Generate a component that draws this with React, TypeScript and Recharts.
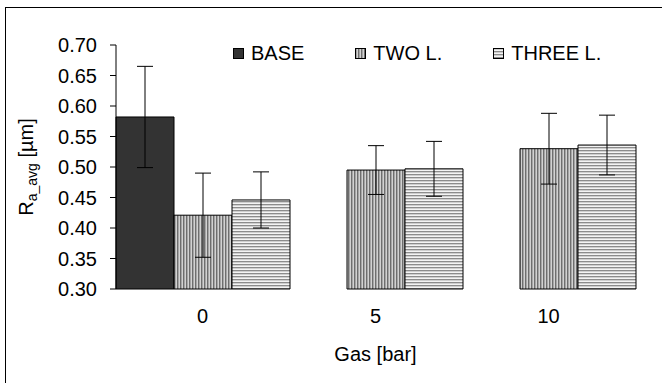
import { BarChart, Bar, XAxis, YAxis, ErrorBar, Legend } from "recharts";

const gasLevels = ["0", "5", "10"];
const baseValues = [0.582, null, null];
const baseErrors = [0.083, null, null];
const twoLValues = [0.421, 0.495, 0.53];
const twoLErrors = [0.069, 0.04, 0.058];
const threeLValues = [0.446, 0.497, 0.536];
const threeLErrors = [0.046, 0.045, 0.049];
const yTicks = [0.3, 0.35, 0.4, 0.45, 0.5, 0.55, 0.6, 0.65, 0.7];
const slotTicks = [0, 1, 2, 3];

const data = gasLevels.map((gas, i) => ({
  gas,
  base: baseValues[i],
  baseErr: baseErrors[i],
  two: twoLValues[i],
  twoErr: twoLErrors[i],
  three: threeLValues[i],
  threeErr: threeLErrors[i],
}));

const series = [
  { key: "base", err: "baseErr", name: "BASE", fill: "#333333" },
  { key: "two", err: "twoErr", name: "TWO L.", fill: "url(#vStripes)" },
  { key: "three", err: "threeErr", name: "THREE L.", fill: "url(#hStripes)" },
];

const font = "'Liberation Sans', Arial, sans-serif";

function LegendBox() {
  return (
    <div style={{ display: "flex", alignItems: "center", fontFamily: font, fontSize: 20, color: "#000" }}>
      {series.map((s, i) => (
        <div key={s.key} style={{ display: "flex", alignItems: "center", marginRight: i < series.length - 1 ? 51 : 0 }}>
          <svg width={11} height={11} style={{ marginRight: 7 }}>
            <rect x={0.5} y={0.5} width={10} height={10} fill={s.fill} stroke="#000" />
          </svg>
          <span style={{ lineHeight: "20px" }}>{s.name}</span>
        </div>
      ))}
    </div>
  );
}

function YLabel() {
  return (
    <text
      x={33}
      y={167}
      transform="rotate(-90 33 167)"
      textAnchor="middle"
      fontFamily={font}
      fontSize={20}
      fill="#000"
    >
      R
      <tspan fontSize={14} dy={4}>a_avg</tspan>
      <tspan dy={-4}> [µm]</tspan>
    </text>
  );
}

export default function App() {
  return (
    <div style={{ position: "fixed", left: 0, top: 0, width: 662, height: 383, overflow: "hidden", background: "#fff" }}>
      <div style={{ position: "absolute", left: 5, top: 7, width: 800, height: 500, border: "1px solid #000" }} />
      <div style={{ position: "absolute", left: 0, top: 0 }}>
        <BarChart
          width={662}
          height={383}
          data={data}
          margin={{ top: 45, right: 27, left: 0, bottom: 0 }}
          barCategoryGap={0}
          barGap={0}
        >
          <defs>
            <pattern id="vStripes" width={3} height={4} patternUnits="userSpaceOnUse">
              <rect width={3} height={4} fill="#a6a6a6" />
              <rect x={0} width={1} height={4} fill="#6e6e6e" />
              <rect x={2} width={1} height={4} fill="#d2d2d2" />
            </pattern>
            <pattern id="hStripes" width={4} height={3} patternUnits="userSpaceOnUse">
              <rect width={4} height={3} fill="#f4f4f4" />
              <rect y={0} width={4} height={1} fill="#8c8c8c" />
              <rect y={1} width={4} height={1} fill="#cfcfcf" />
            </pattern>
          </defs>
          <XAxis
            xAxisId="cat"
            dataKey="gas"
            height={94}
            axisLine={false}
            tickLine={false}
            tickMargin={14}
            tick={{ fill: "#000", fontSize: 20, fontFamily: font }}
            label={{ value: "Gas [bar]", position: "insideBottom", offset: 22, fill: "#000", fontSize: 20, fontFamily: font }}
          />
          <YAxis
            width={116}
            domain={[0.3, 0.7]}
            ticks={yTicks}
            tickFormatter={(v: number) => v.toFixed(2)}
            tickSize={6}
            tickMargin={13}
            axisLine={{ stroke: "#000" }}
            tickLine={{ stroke: "#000" }}
            tick={{ fill: "#000", fontSize: 20, fontFamily: font }}
            label={{ content: () => <YLabel /> }}
          />
          <Legend
            verticalAlign="middle"
            align="center"
            content={() => <LegendBox />}
            wrapperStyle={{ left: 233, top: 43, width: "auto" }}
          />
          {series.map((s) => (
            <Bar
              key={s.key}
              xAxisId="cat"
              dataKey={s.key}
              name={s.name}
              fill={s.fill}
              stroke="#000"
              strokeWidth={1}
              isAnimationActive={false}
            >
              <ErrorBar dataKey={s.err} width={8} stroke="#000" strokeWidth={1} />
            </Bar>
          ))}
          <XAxis
            xAxisId="slots"
            type="number"
            domain={[0, 3]}
            ticks={slotTicks}
            height={0}
            tick={() => <g />}
            tickSize={5}
            axisLine={{ stroke: "#000", strokeWidth: 2.5 }}
            tickLine={{ stroke: "#000" }}
          />
        </BarChart>
      </div>
    </div>
  );
}
